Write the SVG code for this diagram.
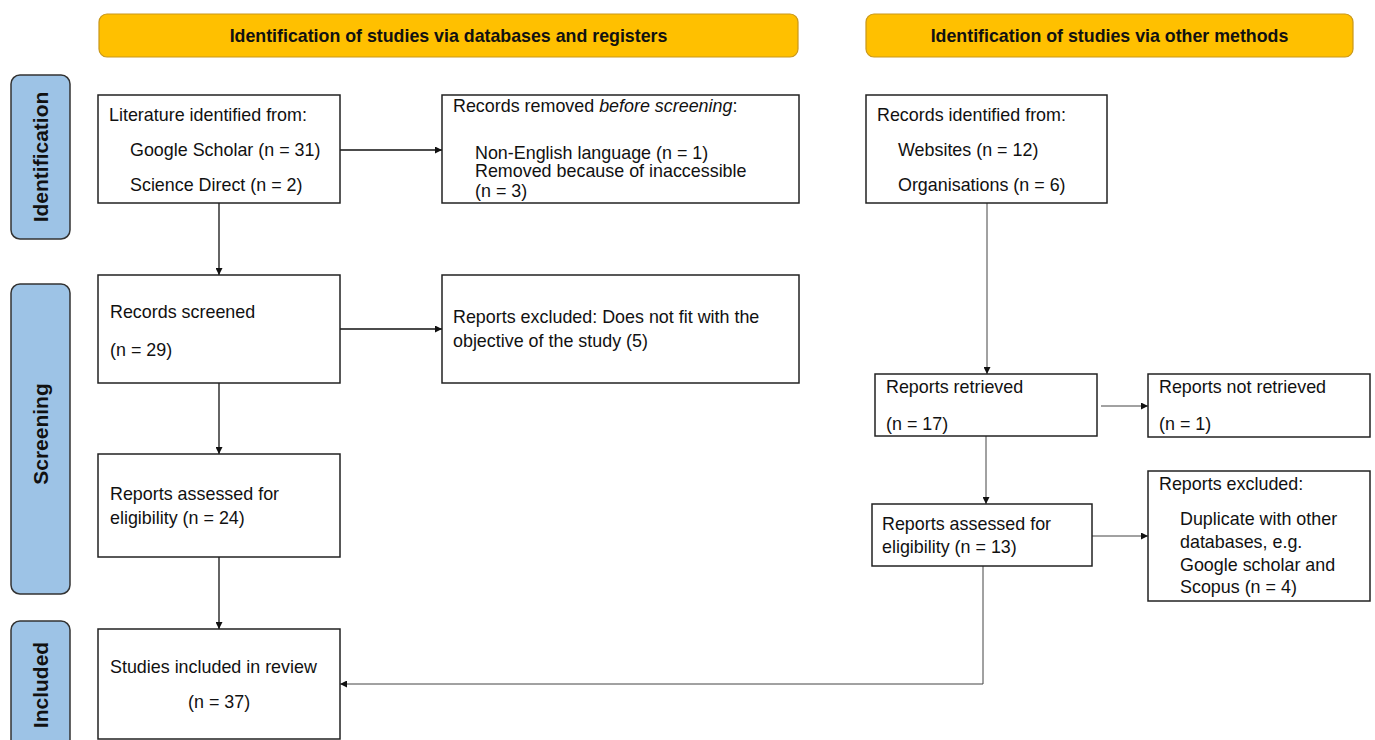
<svg xmlns="http://www.w3.org/2000/svg" width="1375" height="740" viewBox="0 0 1375 740">
<style>
.hdr{fill:#FFC000;stroke:#C9971A;stroke-width:1.2}
.hdrt{font-family:"Liberation Sans",Arial,sans-serif;font-weight:bold;font-size:17.8px;fill:#111;text-anchor:middle}
.side{fill:#9DC3E6;stroke:#333;stroke-width:1.5}
.sidet{font-family:"Liberation Sans",Arial,sans-serif;font-weight:bold;font-size:21px;fill:#111;text-anchor:middle}
.box{fill:#fff;stroke:#222;stroke-width:1.5}
.t{font-family:"Liberation Sans",Arial,sans-serif;font-size:17.9px;fill:#111}
.c{fill:none;stroke:#111;stroke-width:1.3}
.c2{fill:none;stroke:#444;stroke-width:1}
</style>
<defs>
<marker id="ah" viewBox="0 0 10 10" refX="10" refY="5" markerWidth="9" markerHeight="7" markerUnits="userSpaceOnUse" orient="auto">
<path d="M0,0 L10,5 L0,10 z" fill="#111"/>
</marker>
</defs>
<rect width="1375" height="740" fill="#fff"/>

<g id="header-db">
<rect class="hdr" x="99" y="14" width="699" height="43" rx="8"/>
<text class="hdrt" x="448.5" y="42">Identification of studies via databases and registers</text>
</g>
<g id="header-other">
<rect class="hdr" x="866" y="14" width="487" height="43" rx="8"/>
<text class="hdrt" x="1109.5" y="42">Identification of studies via other methods</text>
</g>

<g id="side-identification">
<rect class="side" x="11" y="75" width="59" height="164" rx="9"/>
<text class="sidet" transform="translate(48,157) rotate(-90)">Identification</text>
</g>
<g id="side-screening">
<rect class="side" x="11" y="284" width="59" height="310" rx="9"/>
<text class="sidet" transform="translate(48,434) rotate(-90)">Screening</text>
</g>
<g id="side-included">
<rect class="side" x="11" y="621" width="59" height="140" rx="9"/>
<text class="sidet" transform="translate(48,685) rotate(-90)">Included</text>
</g>

<g id="connectors">
<line class="c" x1="340" y1="150" x2="442" y2="150" marker-end="url(#ah)"/>
<line class="c" x1="219" y1="203" x2="219" y2="275" marker-end="url(#ah)"/>
<line class="c" x1="340" y1="329" x2="442" y2="329" marker-end="url(#ah)"/>
<line class="c" x1="219" y1="383" x2="219" y2="454" marker-end="url(#ah)"/>
<line class="c" x1="219" y1="557" x2="219" y2="629" marker-end="url(#ah)"/>
<line class="c2" x1="987" y1="203" x2="987" y2="374" marker-end="url(#ah)"/>
<line class="c2" x1="1101" y1="406" x2="1148" y2="406" marker-end="url(#ah)"/>
<line class="c2" x1="986" y1="436" x2="986" y2="504" marker-end="url(#ah)"/>
<line class="c2" x1="1092" y1="536" x2="1148" y2="536" marker-end="url(#ah)"/>
<polyline class="c2" points="983,566 983,684 340,684" marker-end="url(#ah)"/>
</g>

<g id="literature">
<rect class="box" x="98" y="95" width="242" height="108"/>
<text class="t" x="109" y="121">Literature identified from:</text>
<text class="t" x="130" y="156">Google Scholar (n = 31)</text>
<text class="t" x="130" y="191">Science Direct (n = 2)</text>
</g>
<g id="records-removed">
<rect class="box" x="442" y="95" width="357" height="108"/>
<text class="t" x="453" y="112">Records removed <tspan font-style="italic">before screening</tspan>:</text>
<text class="t" x="475" y="159">Non-English language (n = 1)</text>
<text class="t" x="475" y="177">Removed because of inaccessible</text>
<text class="t" x="475" y="197">(n = 3)</text>
</g>
<g id="records-screened">
<rect class="box" x="98" y="275" width="242" height="108"/>
<text class="t" x="110" y="318">Records screened</text>
<text class="t" x="110" y="356">(n = 29)</text>
</g>
<g id="reports-excluded-db">
<rect class="box" x="442" y="275" width="357" height="108"/>
<text class="t" x="453" y="323">Reports excluded: Does not fit with the</text>
<text class="t" x="453" y="347">objective of the study (5)</text>
</g>
<g id="reports-assessed-db">
<rect class="box" x="98" y="454" width="242" height="103"/>
<text class="t" x="110" y="500">Reports assessed for</text>
<text class="t" x="110" y="524">eligibility (n = 24)</text>
</g>
<g id="studies-included">
<rect class="box" x="98" y="629" width="242" height="110"/>
<text class="t" x="110" y="673">Studies included in review</text>
<text class="t" x="188" y="708">(n = 37)</text>
</g>
<g id="records-identified-other">
<rect class="box" x="866" y="95" width="241" height="108"/>
<text class="t" x="877" y="121">Records identified from:</text>
<text class="t" x="898" y="156">Websites (n = 12)</text>
<text class="t" x="898" y="191">Organisations (n = 6)</text>
</g>
<g id="reports-retrieved">
<rect class="box" x="875" y="374" width="222" height="62"/>
<text class="t" x="886" y="393">Reports retrieved</text>
<text class="t" x="886" y="430">(n = 17)</text>
</g>
<g id="reports-not-retrieved">
<rect class="box" x="1148" y="374" width="222" height="63"/>
<text class="t" x="1159" y="393">Reports not retrieved</text>
<text class="t" x="1159" y="430">(n = 1)</text>
</g>
<g id="reports-assessed-other">
<rect class="box" x="872" y="504" width="220" height="62"/>
<text class="t" x="882" y="530">Reports assessed for</text>
<text class="t" x="882" y="553">eligibility (n = 13)</text>
</g>
<g id="reports-excluded-other">
<rect class="box" x="1148" y="471" width="222" height="130"/>
<text class="t" x="1159" y="490">Reports excluded:</text>
<text class="t" x="1180" y="525">Duplicate with other</text>
<text class="t" x="1180" y="548">databases, e.g.</text>
<text class="t" x="1180" y="571">Google scholar and</text>
<text class="t" x="1180" y="593">Scopus (n = 4)</text>
</g>
</svg>
